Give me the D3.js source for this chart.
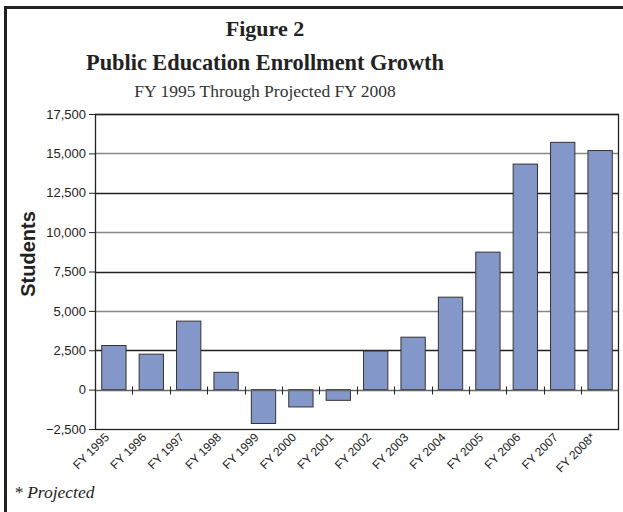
<!DOCTYPE html>
<html>
<head>
<meta charset="utf-8">
<script src="https://cdn.jsdelivr.net/npm/d3@7"></script>
<style>
  body { margin: 0; background: #fff; }
  svg { display: block; }
</style>
</head>
<body>
<script>
let width = 623;
let height = 512;

// data
let years = ['FY 1995', 'FY 1996', 'FY 1997', 'FY 1998', 'FY 1999', 'FY 2000', 'FY 2001',
             'FY 2002', 'FY 2003', 'FY 2004', 'FY 2005', 'FY 2006', 'FY 2007', 'FY 2008*'];
let growth = [2800, 2250, 4350, 1100, -2150, -1100, -680,
              2450, 3330, 5870, 8730, 14320, 15700, 15180];
let yTicks = [-2500, 0, 2500, 5000, 7500, 10000, 12500, 15000, 17500];

let margin = {top: 114, right: 4, bottom: 83, left: 95};
let plotW = width - margin.left - margin.right;
let plotH = height - margin.top - margin.bottom;

let svg = d3.select('body').append('svg')
            .attr('width', width)
            .attr('height', height);

// outer frame (only top and left visible in the original)
svg.append('path')
    .attr('d', 'M5.5,' + height + 'V7.5H' + width)
    .attr('fill', 'none')
    .attr('stroke', '#222')
    .attr('stroke-width', 3);

let serif = 'Liberation Serif, DejaVu Serif, serif';
let sans = 'Liberation Sans, Arial, sans-serif';
let titleX = 265;

svg.append('text')
    .attr('x', titleX).attr('y', 36)
    .attr('text-anchor', 'middle')
    .attr('font-family', serif).attr('font-weight', 'bold').attr('font-size', 22)
    .attr('fill', '#222')
    .text('Figure 2');

svg.append('text')
    .attr('x', titleX).attr('y', 70)
    .attr('text-anchor', 'middle')
    .attr('font-family', serif).attr('font-weight', 'bold').attr('font-size', 22.3)
    .attr('fill', '#222')
    .text('Public Education Enrollment Growth');

svg.append('text')
    .attr('x', titleX).attr('y', 97)
    .attr('text-anchor', 'middle')
    .attr('font-family', serif).attr('font-size', 17.5)
    .attr('fill', '#333')
    .text('FY 1995 Through Projected FY 2008');

let g = svg.append('g')
    .attr('transform', 'translate(' + margin.left + ',' + margin.top + ')');

let xScale = d3.scaleBand()
    .domain(years)
    .range([0, plotW])
    .paddingInner(0.35)
    .paddingOuter(0.18);

let yScale = d3.scaleLinear()
    .domain([-2500, 17500])
    .range([plotH, 0]);

// gridlines
g.append('g')
    .selectAll('line')
    .data(yTicks.filter(function(d) { return d !== 0 && d !== -2500; }))
    .enter()
    .append('line')
    .attr('x1', 0).attr('x2', plotW)
    .attr('y1', function(d) { return Math.round(yScale(d)) + 0.5; })
    .attr('y2', function(d) { return Math.round(yScale(d)) + 0.5; })
    .attr('stroke', function(d, i) { return i % 2 === 0 ? '#222' : '#888'; })
    .attr('stroke-width', 1.3);

// bars
g.append('g')
    .selectAll('rect')
    .data(growth)
    .enter()
    .append('rect')
    .attr('x', function(d, i) { return xScale(years[i]); })
    .attr('y', function(d) { return yScale(Math.max(0, d)); })
    .attr('width', xScale.bandwidth())
    .attr('height', function(d) { return Math.abs(yScale(d) - yScale(0)); })
    .attr('fill', '#8497c9')
    .attr('stroke', '#333')
    .attr('stroke-width', 1);

// zero line with category ticks
let step = xScale.step();
let zeroY = Math.round(yScale(0)) + 0.5;
g.append('line')
    .attr('x1', 0).attr('x2', plotW)
    .attr('y1', zeroY).attr('y2', zeroY)
    .attr('stroke', '#666')
    .attr('stroke-width', 1.3);

g.append('g')
    .selectAll('line')
    .data(d3.range(1, years.length))
    .enter()
    .append('line')
    .attr('x1', function(d) { return Math.round(d * step) + 0.5; })
    .attr('x2', function(d) { return Math.round(d * step) + 0.5; })
    .attr('y1', zeroY - 4).attr('y2', zeroY + 4)
    .attr('stroke', '#222');

// plot frame
g.append('rect')
    .attr('x', 0.5).attr('y', 0.5)
    .attr('width', plotW - 1).attr('height', plotH)
    .attr('fill', 'none')
    .attr('stroke', '#222')
    .attr('stroke-width', 1.3);

// y axis
let yAxis = d3.axisLeft(yScale)
    .tickValues(yTicks)
    .tickSize(6)
    .tickFormat(d3.format(','));

let ya = g.append('g').call(yAxis);
ya.select('.domain').remove();
ya.selectAll('line').attr('stroke', '#222');
ya.selectAll('text')
    .attr('font-family', sans).attr('font-size', 13)
    .attr('fill', '#222')
    .attr('x', -9);

svg.append('text')
    .attr('transform', 'translate(35,254) rotate(-90)')
    .attr('text-anchor', 'middle')
    .attr('font-family', sans).attr('font-weight', 'bold').attr('font-size', 20)
    .attr('fill', '#222')
    .text('Students');

// x labels
g.append('g')
    .selectAll('text')
    .data(years)
    .enter()
    .append('text')
    .attr('transform', function(d) {
        return 'translate(' + (xScale(d) + xScale.bandwidth() / 2 - 4) + ',' + (plotH + 9) + ') rotate(-45)';
    })
    .attr('text-anchor', 'end')
    .attr('font-family', sans).attr('font-size', 12)
    .attr('fill', '#222')
    .text(function(d) { return d; });

svg.append('text')
    .attr('x', 14).attr('y', 498)
    .attr('font-family', serif).attr('font-style', 'italic').attr('font-size', 17.5)
    .attr('fill', '#222')
    .text('* Projected');
</script>
</body>
</html>
